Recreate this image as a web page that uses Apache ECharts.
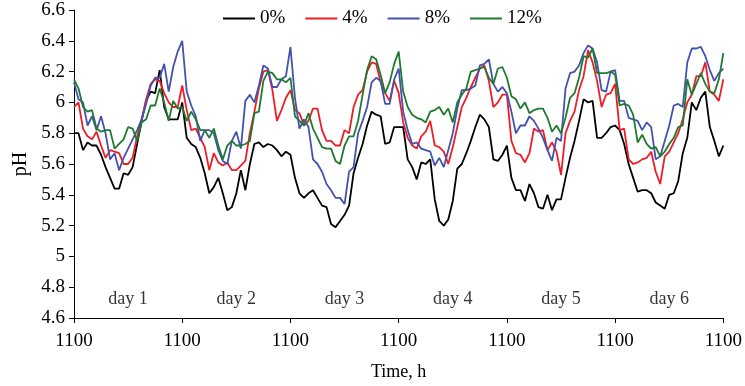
<!DOCTYPE html>
<html>
<head>
<meta charset="utf-8">
<script src="https://cdn.jsdelivr.net/npm/echarts@6/dist/echarts.min.js"></script>
<style>
  html, body { margin: 0; padding: 0; background: #fff; }
  #chart { width: 745px; height: 386px; }
</style>
</head>
<body>
<div id="chart"></div>
<script>
// pH, one value per hour, 6 days from 1100 to 1100
const ph0 = [
  5.80, 5.80, 5.69, 5.74, 5.72, 5.72, 5.66, 5.58, 5.51, 5.44, 5.44, 5.54, 5.53, 5.58, 5.73, 5.88, 6.01, 6.07, 6.06, 6.21, 5.97, 5.89, 5.89, 5.89,
  6.00, 5.77, 5.73, 5.71, 5.64, 5.54, 5.41, 5.45, 5.51, 5.41, 5.30, 5.32, 5.41, 5.56, 5.43, 5.60, 5.73, 5.74, 5.71, 5.73, 5.72, 5.69, 5.65, 5.68,
  5.66, 5.51, 5.41, 5.38, 5.41, 5.43, 5.38, 5.33, 5.32, 5.21, 5.19, 5.23, 5.27, 5.33, 5.54, 5.64, 5.73, 5.85, 5.94, 5.92, 5.91, 5.73, 5.74, 5.84,
  5.84, 5.84, 5.63, 5.58, 5.50, 5.61, 5.60, 5.63, 5.37, 5.23, 5.20, 5.24, 5.36, 5.57, 5.60, 5.67, 5.75, 5.84, 5.92, 5.89, 5.84, 5.63, 5.62, 5.66,
  5.72, 5.51, 5.43, 5.43, 5.36, 5.47, 5.41, 5.32, 5.31, 5.40, 5.30, 5.37, 5.37, 5.51, 5.64, 5.75, 5.88, 6.02, 6.00, 6.01, 5.77, 5.77, 5.80, 5.84,
  5.85, 5.82, 5.73, 5.60, 5.51, 5.42, 5.43, 5.43, 5.41, 5.35, 5.33, 5.31, 5.40, 5.41, 5.49, 5.67, 5.77, 6.00, 5.95, 6.03, 6.07, 5.84, 5.75, 5.65, 5.72
];
const ph4 = [
  5.97, 6.00, 5.83, 5.78, 5.76, 5.81, 5.72, 5.64, 5.69, 5.68, 5.67, 5.60, 5.60, 5.64, 5.78, 5.89, 6.02, 6.12, 6.15, 6.14, 6.06, 6.00, 5.97, 5.97,
  6.11, 5.95, 5.82, 5.83, 5.77, 5.71, 5.56, 5.67, 5.61, 5.59, 5.61, 5.56, 5.56, 5.59, 5.62, 5.80, 5.94, 6.09, 6.20, 6.21, 6.08, 5.88, 5.95, 6.03,
  6.08, 5.95, 5.93, 5.85, 5.88, 5.96, 5.96, 5.82, 5.75, 5.75, 5.72, 5.72, 5.82, 5.80, 5.97, 6.05, 6.08, 6.20, 6.26, 6.25, 6.13, 6.06, 6.01, 6.14,
  6.06, 5.87, 5.77, 5.72, 5.70, 5.78, 5.81, 5.88, 5.72, 5.71, 5.68, 5.60, 5.71, 5.84, 5.97, 6.03, 6.10, 6.16, 6.22, 6.24, 6.14, 5.97, 6.00, 6.05,
  6.05, 5.75, 5.67, 5.66, 5.61, 5.67, 5.83, 5.81, 5.82, 5.69, 5.74, 5.68, 5.53, 5.80, 5.88, 5.94, 6.08, 6.17, 6.34, 6.26, 6.14, 5.97, 6.05, 6.06,
  6.12, 5.82, 5.83, 5.63, 5.60, 5.61, 5.63, 5.64, 5.68, 5.55, 5.47, 5.65, 5.68, 5.74, 5.80, 5.89, 6.00, 6.05, 6.17, 6.17, 6.26, 6.07, 6.05, 6.01, 6.15
];
const ph8 = [
  6.13, 6.02, 6.00, 5.85, 5.91, 5.82, 5.91, 5.80, 5.63, 5.67, 5.56, 5.64, 5.70, 5.76, 5.82, 5.89, 5.99, 6.11, 6.16, 6.16, 6.25, 6.07, 6.23, 6.33,
  6.40, 6.07, 5.98, 5.91, 5.75, 5.82, 5.82, 5.80, 5.69, 5.62, 5.60, 5.75, 5.81, 5.70, 6.01, 6.05, 6.00, 6.11, 6.24, 6.22, 6.10, 6.10, 6.15, 6.17,
  6.36, 6.03, 5.83, 5.89, 5.84, 5.63, 5.60, 5.55, 5.47, 5.43, 5.38, 5.38, 5.34, 5.55, 5.58, 5.80, 5.88, 5.97, 6.13, 6.16, 6.14, 5.99, 5.99, 6.15,
  6.22, 5.94, 5.82, 5.73, 5.74, 5.70, 5.69, 5.68, 5.59, 5.64, 5.58, 5.69, 5.80, 5.96, 6.08, 6.08, 6.09, 6.11, 6.24, 6.25, 6.28, 6.12, 6.07, 6.10,
  6.06, 5.94, 5.80, 5.85, 5.85, 5.91, 5.88, 5.83, 5.77, 5.69, 5.62, 5.77, 5.75, 6.09, 6.19, 6.20, 6.24, 6.32, 6.37, 6.35, 6.26, 6.08, 6.07, 6.20,
  6.21, 6.01, 6.01, 5.90, 5.89, 5.88, 5.82, 5.87, 5.84, 5.63, 5.65, 5.75, 5.85, 5.98, 5.99, 5.97, 6.26, 6.35, 6.35, 6.36, 6.30, 6.21, 6.14, 6.19, 6.22
];
const ph12 = [
  6.15, 6.09, 5.97, 5.94, 5.95, 5.83, 5.81, 5.82, 5.82, 5.70, 5.73, 5.76, 5.84, 5.83, 5.75, 5.87, 5.89, 5.98, 5.98, 6.09, 6.00, 5.88, 6.01, 5.96,
  5.97, 5.88, 5.94, 5.89, 5.82, 5.82, 5.77, 5.83, 5.72, 5.63, 5.72, 5.75, 5.72, 5.72, 5.73, 5.75, 5.93, 5.94, 6.14, 6.20, 6.19, 6.15, 6.15, 6.13,
  6.16, 5.91, 5.88, 5.85, 5.93, 5.83, 5.77, 5.71, 5.70, 5.70, 5.62, 5.60, 5.72, 5.78, 5.78, 5.88, 6.05, 6.21, 6.30, 6.28, 6.18, 6.06, 6.13, 6.25,
  6.33, 6.07, 5.97, 5.92, 5.90, 5.89, 5.87, 5.94, 5.95, 5.97, 5.92, 5.96, 5.87, 6.00, 6.05, 6.09, 6.20, 6.21, 6.22, 6.23, 6.16, 6.12, 6.22, 6.23,
  6.16, 6.04, 6.02, 5.96, 6.00, 5.93, 5.95, 5.96, 5.96, 5.90, 5.81, 5.85, 5.80, 5.90, 6.03, 6.06, 6.16, 6.30, 6.29, 6.35, 6.19, 6.19, 6.19, 6.20,
  6.18, 5.98, 5.99, 5.98, 5.92, 5.74, 5.79, 5.73, 5.70, 5.71, 5.65, 5.68, 5.73, 5.77, 5.84, 5.85, 6.15, 6.05, 6.12, 6.19, 6.12, 6.07, 6.06, 6.15, 6.32
];
const seriesNames = ['0%', '4%', '8%', '12%'];
const colors = ['#000000', '#ee1c25', '#4352ae', '#1e7a2e'];
const dayLabels = ['day 1', 'day 2', 'day 3', 'day 4', 'day 5', 'day 6'];
const dayLabelY = 4.72;

const font = 'Liberation Serif, Times New Roman, serif';
const toPoints = (arr) => arr.map((v, i) => [i, v]);

const chart = echarts.init(document.getElementById('chart'));

const option = {
  animation: false,
  color: colors,
  textStyle: { fontFamily: font },
  grid: { left: 74, right: 20, top: 10, bottom: 68 },
  legend: {
    top: 4,
    left: 218,
    icon: 'rect',
    itemWidth: 32,
    itemHeight: 2,
    itemGap: 20,
    data: seriesNames,
    textStyle: { fontFamily: font, fontSize: 19, color: '#000' }
  },
  xAxis: {
    type: 'value',
    min: 0,
    max: 144,
    interval: 24,
    name: 'Time, h',
    nameLocation: 'middle',
    nameGap: 45,
    nameTextStyle: { fontFamily: font, fontSize: 18, color: '#000' },
    axisLine: { lineStyle: { color: '#000', width: 1 } },
    axisTick: { show: true, length: 5, lineStyle: { color: '#000' } },
    splitLine: { show: false },
    axisLabel: {
      margin: 14,
      fontFamily: font,
      fontSize: 19,
      color: '#000',
      formatter: () => '1100'
    }
  },
  yAxis: {
    type: 'value',
    min: 4.6,
    max: 6.6,
    interval: 0.2,
    name: 'pH',
    nameLocation: 'middle',
    nameGap: 42,
    nameTextStyle: { fontFamily: font, fontSize: 20, color: '#000' },
    axisLine: { show: true, lineStyle: { color: '#000', width: 1 } },
    axisTick: { show: true, length: 5, lineStyle: { color: '#000' } },
    splitLine: { show: false },
    axisLabel: {
      margin: 9,
      fontFamily: font,
      fontSize: 19,
      color: '#000',
      formatter: (v) => String(Math.round(v * 10) / 10)
    }
  },
  series: [
    ...[ph0, ph4, ph8, ph12].map((arr, k) => ({
      name: seriesNames[k],
      type: 'line',
      data: toPoints(arr),
      symbol: 'none',
      lineStyle: { width: 1.8, color: colors[k] },
      itemStyle: { color: colors[k] }
    })),
    {
      name: 'days',
      type: 'scatter',
      symbolSize: 0,
      silent: true,
      data: dayLabels.map((d, i) => ({ value: [12 + 24 * i, dayLabelY], label: { formatter: d } })),
      label: {
        show: true,
        position: 'inside',
        fontFamily: font,
        fontSize: 18,
        color: '#000'
      }
    }
  ]
};

chart.setOption(option);
</script>
</body>
</html>
